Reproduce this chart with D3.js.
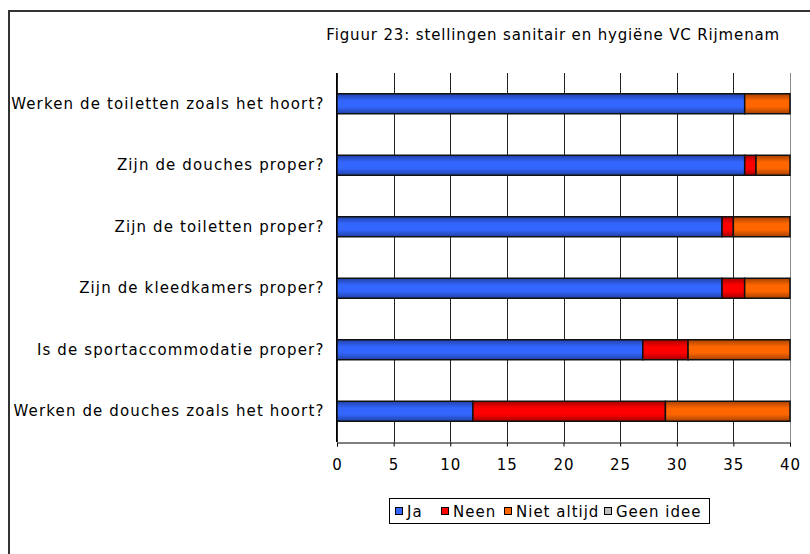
<!DOCTYPE html>
<html>
<head>
<meta charset="utf-8">
<script src="https://cdn.jsdelivr.net/npm/d3@7"></script>
<style>
  body { margin: 0; background: #fff; }
  text { font-family: "DejaVu Sans", Verdana, sans-serif; fill: #000; font-size: 15px; letter-spacing: 1px; }
  .cat text { letter-spacing: 1.13px; }
  .title { letter-spacing: 0.85px; }
</style>
</head>
<body>
<svg width="810" height="554"></svg>
<script>
const categories = [
  "Werken de toiletten zoals het hoort?",
  "Zijn de douches proper?",
  "Zijn de toiletten proper?",
  "Zijn de kleedkamers proper?",
  "Is de sportaccommodatie proper?",
  "Werken de douches zoals het hoort?"
];
const seriesNames = ["Ja", "Neen", "Niet altijd", "Geen idee"];
const ja = [36, 36, 34, 34, 27, 12];
const neen = [0, 1, 1, 2, 4, 17];
const nietAltijd = [4, 3, 5, 4, 9, 11];
const geenIdee = [0, 0, 0, 0, 0, 0];
const xTicks = [0, 5, 10, 15, 20, 25, 30, 35, 40];
const colors = ["#3366ff", "#ff0000", "#ff6600", "#c0c0c0"];
const title = "Figuur 23: stellingen sanitair en hygiëne VC Rijmenam";

let svg = d3.select("svg");

// outer frame (runs off the right and bottom edge)
svg.append("rect")
  .attr("x", 9).attr("y", 11)
  .attr("width", 830).attr("height", 580)
  .attr("fill", "none")
  .attr("stroke", "#333")
  .attr("stroke-width", 2);

svg.append("text")
  .attr("class", "title")
  .attr("x", 780).attr("y", 40)
  .attr("text-anchor", "end")
  .text(title);

let plotLeft = 337, plotRight = 790, plotTop = 73, plotBottom = 442;

let x = d3.scaleLinear().domain([0, 40]).range([plotLeft, plotRight]);
let y = d3.scaleBand().domain(categories).range([plotTop, plotBottom]).paddingInner(0.675).paddingOuter(0.3375);

// gradients for the bars
let defs = svg.append("defs");
colors.forEach((c, i) => {
  let g = defs.append("linearGradient")
    .attr("id", "grad" + i)
    .attr("x1", 0).attr("y1", 0).attr("x2", 0).attr("y2", 1);
  let dark = d3.color(c).darker(1.2);
  g.append("stop").attr("offset", "0%").attr("stop-color", dark);
  g.append("stop").attr("offset", "35%").attr("stop-color", c);
  g.append("stop").attr("offset", "65%").attr("stop-color", c);
  g.append("stop").attr("offset", "100%").attr("stop-color", dark);
});

// vertical gridlines
svg.append("g")
  .selectAll("line")
  .data(xTicks)
  .enter()
  .append("line")
  .attr("x1", d => Math.round(x(d)) + 0.5)
  .attr("x2", d => Math.round(x(d)) + 0.5)
  .attr("y1", plotTop).attr("y2", plotBottom)
  .attr("stroke", d => d == 40 ? "#888" : "#222")
  .attr("stroke-width", 1);

// stacked data
let rows = categories.map((c, i) => ({
  cat: c, "Ja": ja[i], "Neen": neen[i], "Niet altijd": nietAltijd[i], "Geen idee": geenIdee[i]
}));
let stack = d3.stack().keys(seriesNames)(rows);

svg.append("g")
  .selectAll("g")
  .data(stack)
  .enter()
  .append("g")
  .attr("fill", (d, i) => "url(#grad" + i + ")")
  .selectAll("rect")
  .data(d => d.filter(s => s[1] - s[0] > 0))
  .enter()
  .append("rect")
  .attr("x", d => x(d[0]))
  .attr("y", d => y(d.data.cat))
  .attr("width", d => x(d[1]) - x(d[0]))
  .attr("height", y.bandwidth())
  .attr("stroke", "#111")
  .attr("stroke-width", 1.5);

// axes
let xAxis = svg.append("g")
  .attr("transform", "translate(0," + (plotBottom + 0.5) + ")")
  .call(d3.axisBottom(x).tickValues(xTicks).tickSize(4).tickPadding(13));
xAxis.select(".domain").attr("stroke", "#000");
xAxis.selectAll(".tick line").attr("stroke", "#000");
xAxis.attr("font-size", null).attr("font-family", null);

let yAxis = svg.append("g")
  .attr("class", "cat")
  .attr("transform", "translate(" + (plotLeft - 0.5) + ",0)")
  .call(d3.axisLeft(y).tickSize(0).tickPadding(12));
yAxis.select(".domain").attr("stroke", "#000").attr("d", "M0," + plotTop + "V" + plotBottom);
yAxis.attr("font-size", null).attr("font-family", null);

// legend
let legend = svg.append("g");
legend.append("rect")
  .attr("x", 389.5).attr("y", 498.5)
  .attr("width", 320).attr("height", 25)
  .attr("fill", "#fff")
  .attr("stroke", "#000");
let lx = [395, 441, 504, 604];
seriesNames.forEach((s, i) => {
  legend.append("rect")
    .attr("x", lx[i] + 0.5).attr("y", 507.5)
    .attr("width", 7).attr("height", 7)
    .attr("fill", colors[i])
    .attr("stroke", "#000");
  legend.append("text")
    .attr("x", lx[i] + 12).attr("y", 517)
    .text(s);
});
</script>
</body>
</html>
